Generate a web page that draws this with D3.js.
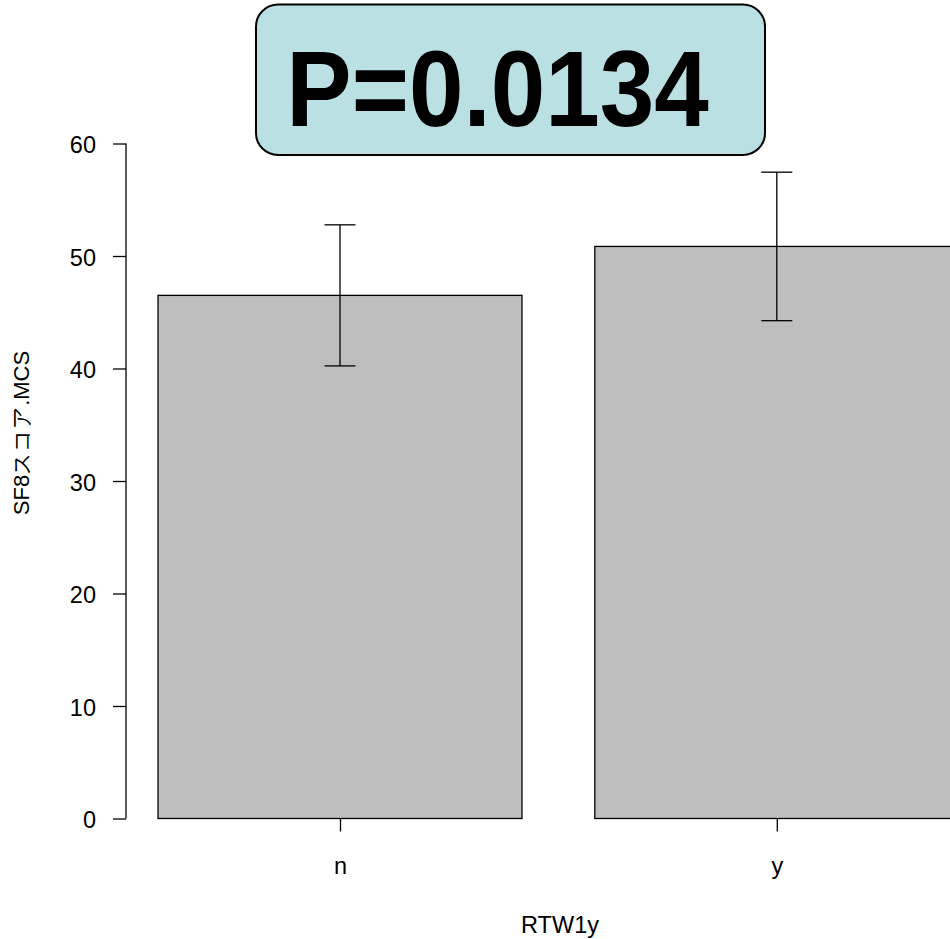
<!DOCTYPE html>
<html><head><meta charset="utf-8">
<script src="https://cdn.jsdelivr.net/npm/d3@7"></script>
<style>body{margin:0;background:#fff}svg{display:block}</style>
</head><body>
<script>
const categories = ["n", "y"];
const means = [46.5, 50.85];
const sds = [6.27, 6.6];
const yTicks = [0, 10, 20, 30, 40, 50, 60];
const pLabel = "P=0.0134";
const xTitle = "RTW1y";
const yTitle = "SF8スコア.MCS";

const W = 950, H = 939;
const svg = d3.select("body").append("svg").attr("width", W).attr("height", H);
const font = "Liberation Sans, Arial, sans-serif";

// bar positions in R barplot units (width 1, space 0.2)
const barLeft = categories.map((c, i) => 0.2 + i * 1.2);
const x = d3.scaleLinear().domain([0.2, 1.2]).range([158, 522]);
const y = d3.scaleLinear().domain([0, 60]).range([818.5, 143.5]);

const g = svg.append("g");
// bars
g.selectAll("rect.bar").data(categories).enter().append("rect")
  .attr("x", (d, i) => x(barLeft[i]))
  .attr("y", (d, i) => y(means[i]))
  .attr("width", (d, i) => x(barLeft[i] + 1) - x(barLeft[i]))
  .attr("height", (d, i) => y(0) - y(means[i]))
  .attr("fill", "#bebebe").attr("stroke", "#000").attr("stroke-width", 1.3);

// error bars
const capHalf = 15.5;
categories.forEach((c, i) => {
  const cx = x(barLeft[i] + 0.5);
  const top = y(means[i] + sds[i]), bot = y(means[i] - sds[i]);
  g.append("line").attr("x1", cx).attr("x2", cx).attr("y1", top).attr("y2", bot)
    .attr("stroke", "#000").attr("stroke-width", 1.3);
  [top, bot].forEach(yy => g.append("line").attr("x1", cx - capHalf).attr("x2", cx + capHalf)
    .attr("y1", yy).attr("y2", yy).attr("stroke", "#000").attr("stroke-width", 1.3));
});

// y axis
const yAxis = d3.axisLeft(y).tickValues(yTicks).tickSize(13).tickPadding(17).tickSizeOuter(0);
const ya = svg.append("g").attr("transform", "translate(126,0)").call(yAxis);
ya.select(".domain").attr("stroke-width", 1.3);
ya.selectAll(".tick line").attr("stroke-width", 1.3);
ya.selectAll("text").attr("font-family", font).attr("font-size", 23.5).attr("fill", "#000").attr("dy", "0.4em");
ya.select(".domain").attr("d", `M0,${y(60)}V${y(0)}`);

// x axis (ticks only, no domain line)
const xb = d3.scaleOrdinal().domain(categories).range(categories.map((c, i) => x(barLeft[i] + 0.5)));
const xAxis = d3.axisBottom(xb).tickSize(13).tickPadding(26).tickSizeOuter(0);
const xa = svg.append("g").attr("transform", `translate(0,${y(0)})`).call(xAxis);
xa.select(".domain").remove();
xa.selectAll(".tick line").attr("stroke-width", 1.3);
xa.selectAll("text").attr("font-family", font).attr("font-size", 23.5).attr("fill", "#000");

// titles
svg.append("text").attr("x", 560).attr("y", 933).attr("text-anchor", "middle")
  .attr("font-family", font).attr("font-size", 23.5).text(xTitle);
svg.append("text").attr("transform", "translate(29,433) rotate(-90)").attr("text-anchor", "middle")
  .attr("font-family", font).attr("font-size", 22).text(yTitle);

// P box
svg.append("rect").attr("x", 256).attr("y", 4.5).attr("width", 509).attr("height", 150.5)
  .attr("rx", 22).attr("ry", 22).attr("fill", "#bbe0e3").attr("stroke", "#000").attr("stroke-width", 2);
svg.append("text").attr("transform", "translate(497.5,126) scale(1,1.1)").attr("text-anchor", "middle")
  .attr("font-family", font).attr("font-weight", "bold").attr("font-size", 98).attr("fill", "#000")
  .text(pLabel);
</script>
</body></html>
